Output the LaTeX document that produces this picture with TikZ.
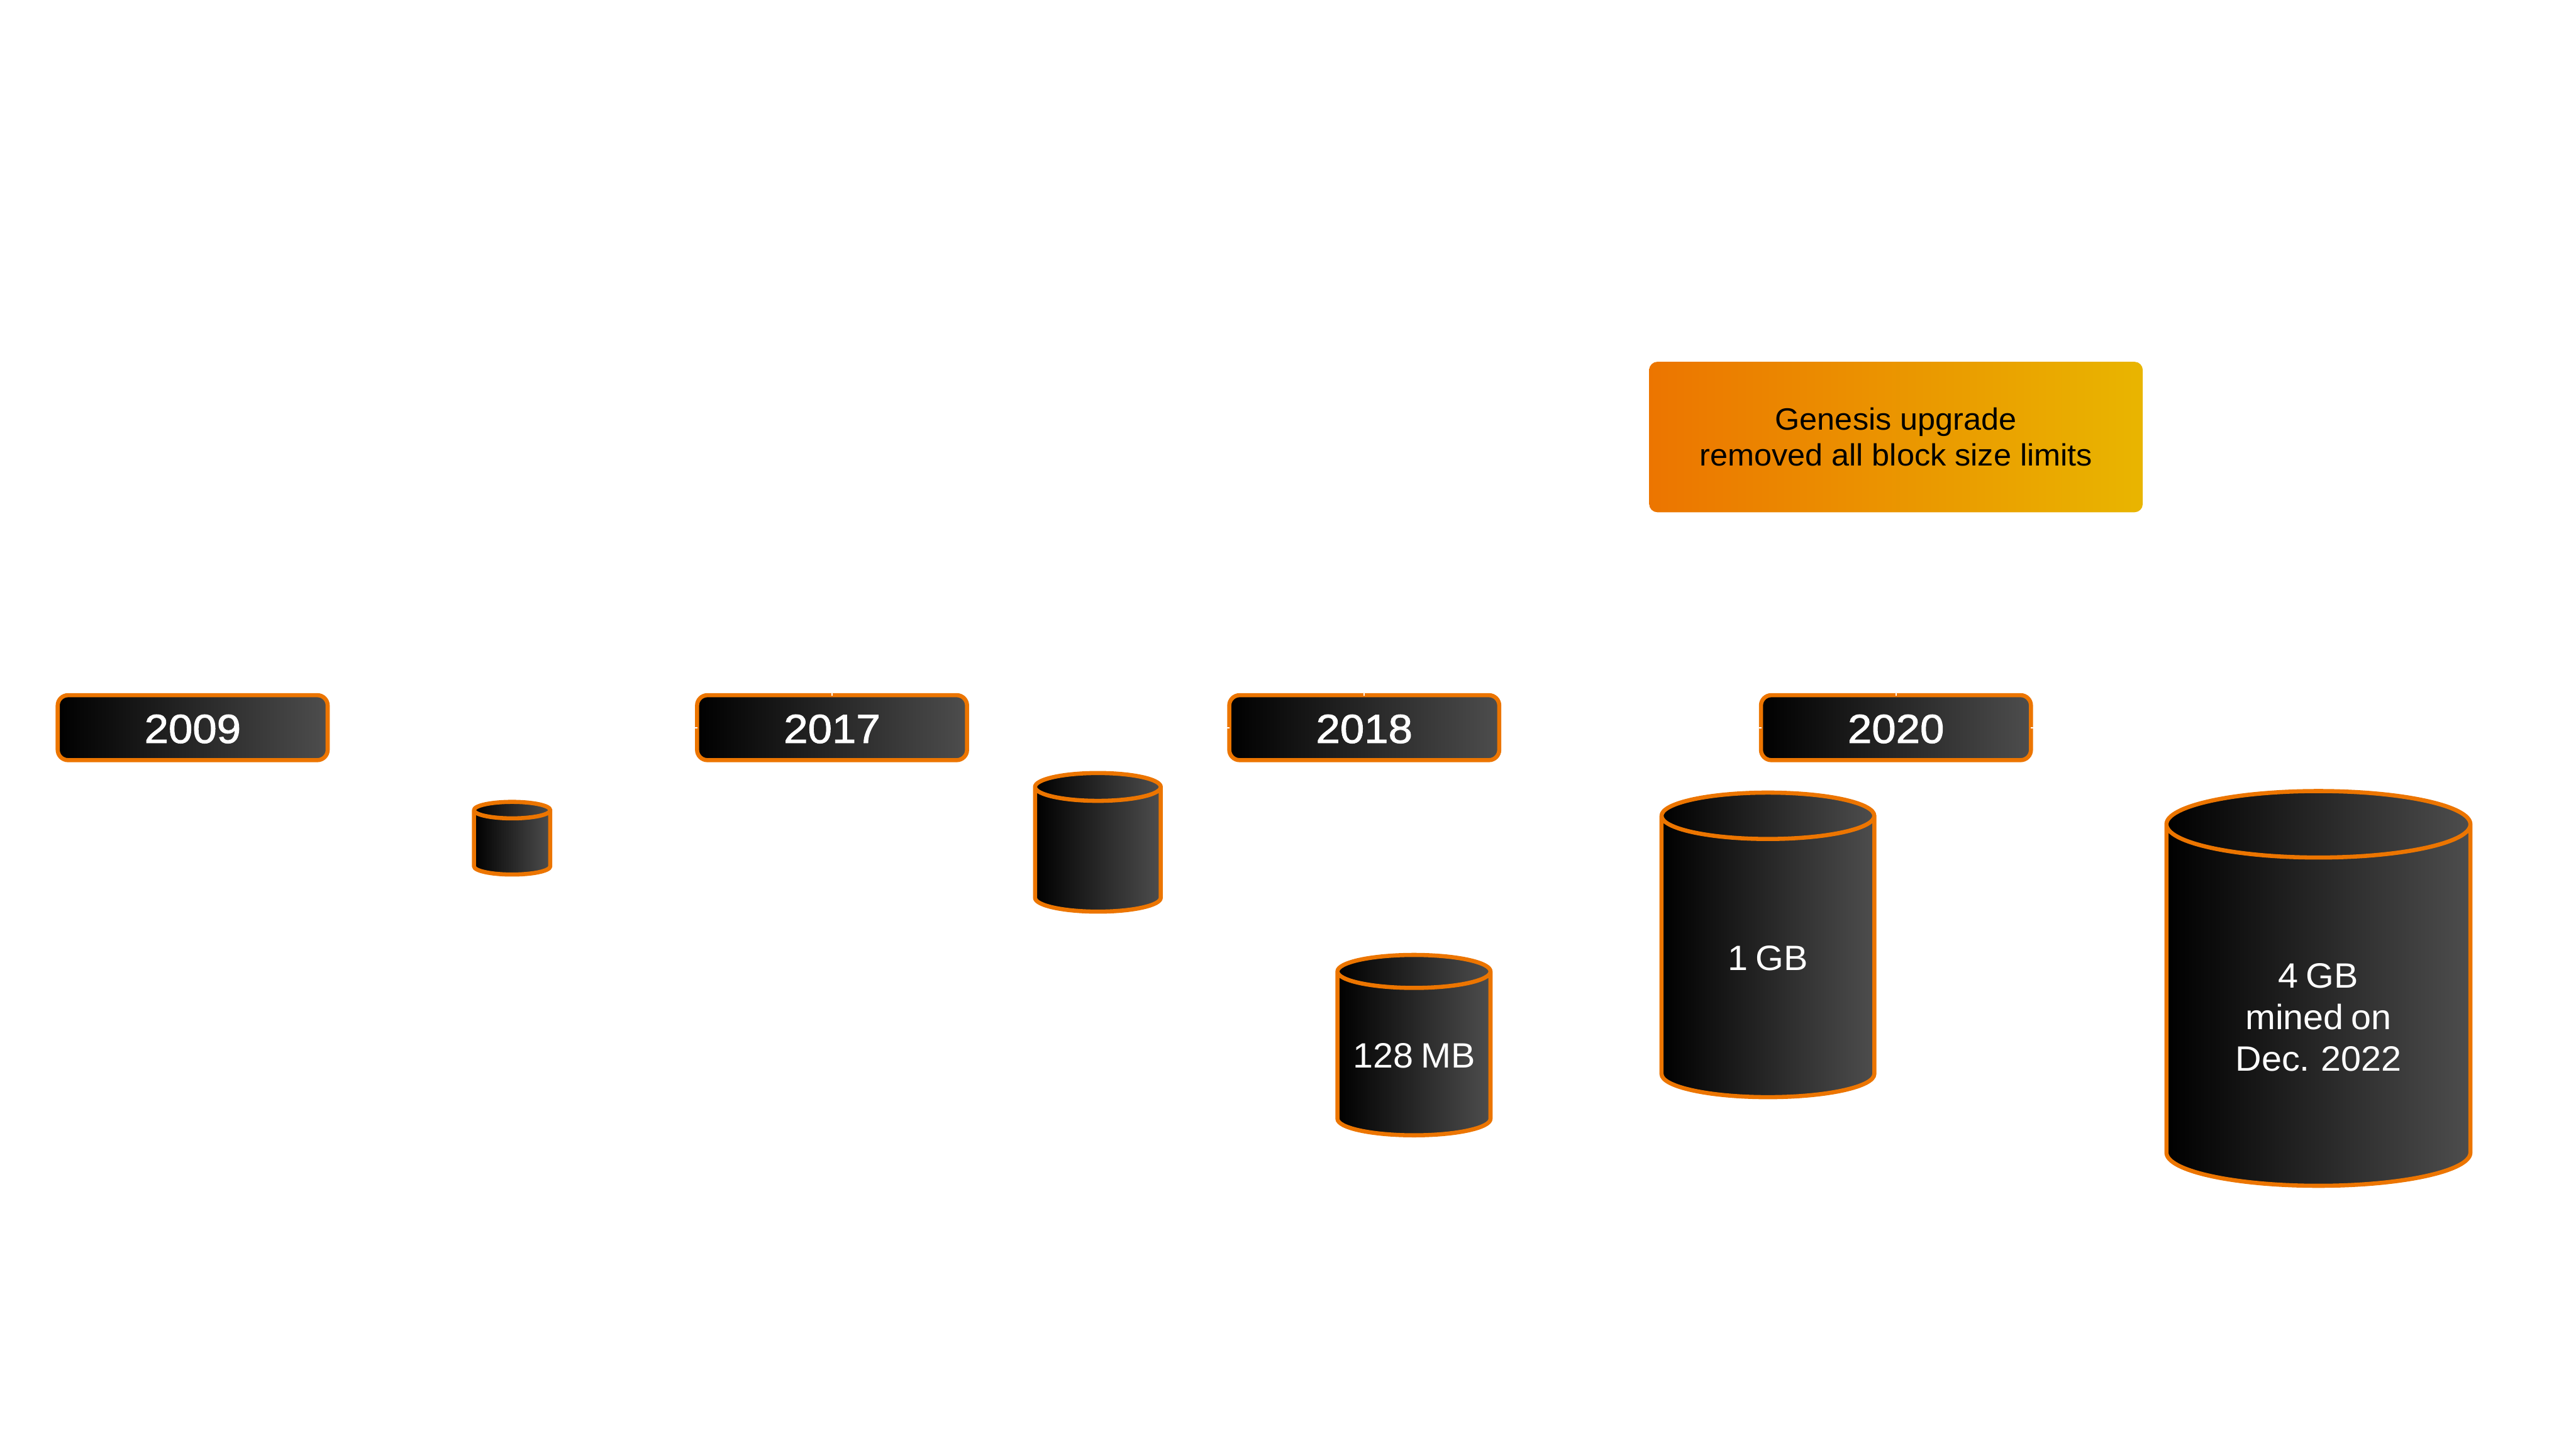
\documentclass[tikz,border=0pt]{standalone}
\usepackage{fontspec}
\setmainfont[FakeStretch=1.03,WordSpace=0.75]{Liberation Sans}
\newfontfamily\notefont[FakeStretch=1.03]{Liberation Sans}
\newfontfamily\yearfont[FakeStretch=1.07,FakeBold=1.5]{Liberation Sans}
\usetikzlibrary{positioning,calc}
\definecolor{rim}{HTML}{EC7500}
\definecolor{ink}{HTML}{000000}
\definecolor{ash}{HTML}{4D4D4D}
\definecolor{gold}{HTML}{E9B500}
\tikzset{
  year/.style={draw=rim, line width=0.08cm, rounded corners=0.2cm, left color=ink, right color=ash,
               text=white, font=\yearfont\fontsize{22.4pt}{26pt}\selectfont, text height=0.60cm,
               minimum width=5.24cm, minimum height=1.26cm, inner sep=0pt},
  drum/.style={draw=rim, line width=0.08cm, line join=round, left color=ink, right color=ash},
  drumtext/.style={text=white, align=center, inner sep=0pt,
               font=\fontsize{19.4pt}{22.8pt}\selectfont},
  note/.style={rounded corners=0.16cm, left color=rim, right color=gold, align=center,
               minimum width=9.58cm, minimum height=2.92cm, inner sep=0pt,
               font=\notefont\fontsize{17pt}{20pt}\selectfont},
  nick/.style={white, line width=0.02cm},
}
% name, centre x, half width, top, bottom, end radius, text y, text
\newcommand{\drumnode}[8]{
  \path[drum] (#2-#3,#4-#6) -- (#2-#3,#5+#6)
    arc[x radius=#3, y radius=#6, start angle=180, end angle=360]
    -- (#2+#3,#4-#6)
    arc[x radius=#3, y radius=#6, start angle=0, end angle=180]
    arc[x radius=#3, y radius=#6, start angle=180, end angle=360];
  \node[drumtext] (#1) at (#2,#7) {#8};
}
\begin{document}
\begin{tikzpicture}
  \useasboundingbox (0,0) rectangle (50,-28.13);
  % years
  \node[year] (y2009) at (3.74,-14.12) {2009};
  \node[year] (y2017) at (16.15,-14.12) {2017};
  \node[year] (y2018) at (26.48,-14.12) {2018};
  \node[year] (y2020) at (36.80,-14.12) {2020};
  % upgrade note
  \node[note] (genesis) at (36.80,-8.48) {Genesis upgrade\\removed all block size limits};
  % block sizes
  \drumnode{c2009}{9.94}{0.74}{-15.56}{-16.97}{0.16}{-16.27}{}
  \drumnode{c2017}{21.31}{1.22}{-15.00}{-17.69}{0.27}{-16.35}{}
  \drumnode{c2018}{27.445}{1.485}{-18.53}{-22.03}{0.32}{-20.49}{128 MB}
  \drumnode{c2020}{34.315}{2.065}{-15.38}{-21.29}{0.45}{-18.60}{1 GB}
  \drumnode{c2022}{45.00}{2.95}{-15.35}{-23.01}{0.645}{-19.74}{4 GB\\mined on\\Dec. 2022}
  % nicks
  \draw[nick] (y2017.north) -- ++(0,-0.05);
  \draw[nick] (y2018.north) -- ++(0,-0.05);
  \draw[nick] (y2020.north) -- ++(0,-0.05);
  \draw[nick] (y2017.west) -- ++(0.05,0);
  \draw[nick] (y2018.west) -- ++(0.05,0);
  \draw[nick] (y2020.west) -- ++(0.05,0);
  \draw[nick] (y2020.east) -- ++(-0.05,0);
\end{tikzpicture}
\end{document}
